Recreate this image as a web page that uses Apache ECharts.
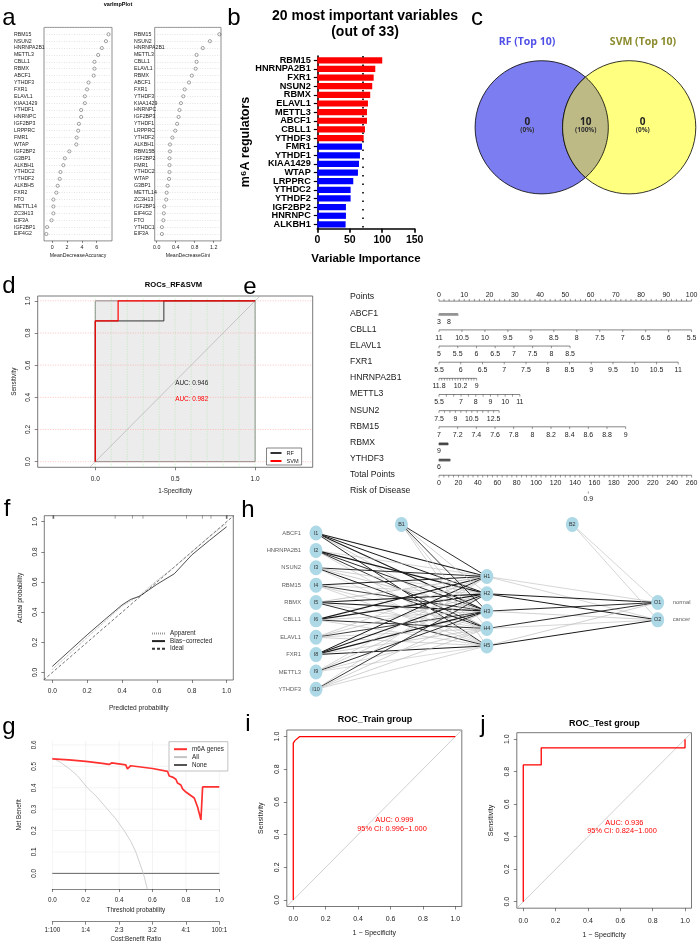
<!DOCTYPE html>
<html><head><meta charset="utf-8"><title>m6A regulators figure</title>
<script src="https://cdn.jsdelivr.net/npm/echarts@6.0.0/dist/echarts.min.js"></script>
<style>html,body{margin:0;padding:0;background:#fff;}#chart{width:700px;height:944px;}</style>
</head><body><div id="chart"></div>
<script>
// ================= DATA =================
// (a) varImpPlot
const accGenes = ['RBM15','NSUN2','HNRNPA2B1','METTL3','CBLL1','RBMX','ABCF1','YTHDF3','FXR1','ELAVL1','KIAA1429','YTHDF1','HNRNPC','IGF2BP3','LRPPRC','FMR1','WTAP','IGF2BP2','G3BP1','ALKBH1','YTHDC2','YTHDF2','ALKBH5','FXR2','FTO','METTL14','ZC3H13','EIF3A','IGF2BP1','EIF4G2'];
const accValues = [7.6,7.25,6.7,6.2,5.7,5.7,5.6,4.9,4.7,4.4,4.4,3.9,3.9,3.6,3.5,3.3,3.25,2.3,1.7,1.5,1.1,1.0,0.73,0.55,0.15,0.15,0.15,-0.1,-0.7,-0.8];
const accTicks = [0,2,4,6];
const giniGenes = ['RBM15','NSUN2','HNRNPA2B1','METTL3','CBLL1','ELAVL1','RBMX','ABCF1','FXR1','YTHDF3','KIAA1429','HNRNPC','IGF2BP3','YTHDF1','LRPPRC','YTHDF2','ALKBH1','RBM15B','IGF2BP2','FMR1','YTHDC2','WTAP','G3BP1','METTL14','ZC3H13','IGF2BP1','EIF4G2','FTO','YTHDC1','EIF3A'];
const giniValues = [1.32,1.12,0.97,0.84,0.84,0.82,0.74,0.68,0.59,0.56,0.51,0.48,0.46,0.43,0.39,0.33,0.28,0.28,0.27,0.27,0.27,0.26,0.23,0.21,0.20,0.16,0.15,0.14,0.11,0.11];
const giniTicks = [0,0.4,0.8,1.2];
// (b) importance bars
const impGenes = ['RBM15','HNRNPA2B1','FXR1','NSUN2','RBMX','ELAVL1','METTL3','ABCF1','CBLL1','YTHDF3','FMR1','YTHDF1','KIAA1429','WTAP','LRPPRC','YTHDC2','YTHDF2','IGF2BP2','HNRNPC','ALKBH1'];
const impValues = [100,89.3,86.8,84.6,81.5,78,76.5,76.5,73.4,71.4,68.8,65.7,64.2,62.6,55.4,51.3,51.3,44.1,44.1,43.6];
const impTopN = 10;
const impCutoff = 70;
// (c) Venn
const vennSetNames = ['RF (Top 10)','SVM (Top 10)'];
const vennCounts = [0, 10, 0];
const vennPercents = ['(0%)','(100%)','(0%)'];
// (d) ROC RF & SVM
const rfFpr = [0,0,0.429,0.429,1];
const rfTpr = [0,0.875,0.875,1,1];
const svmFpr = [0,0,0.143,0.143,1];
const svmTpr = [0,0.875,0.875,1,1];
const rocAucTexts = ['AUC: 0.946','AUC: 0.982'];
const dTicksX = [0,0.5,1];
const dTicksY = [0,0.2,0.4,0.6,0.8,1];
const dGridV = [0,0.1,0.2,0.3,0.4,0.5,0.6,0.7,0.8,0.9,1];
// (e) nomogram
const nomoRowNames = ['Points','ABCF1','CBLL1','ELAVL1','FXR1','HNRNPA2B1','METTL3','NSUN2','RBM15','RBMX','YTHDF3','Total Points','Risk of Disease'];
const nomoFrom = [0, 3, 11, 5, 5.5, 11.8, 5.5, 7.5, 7, 9, 6, 0];
const nomoTo   = [100, 12.5, 5.5, 8.5, 11, 9, 11, 13, 9, 12, 9, 260];
const nomoStep = [2, 0.5, 0.5, 0.5, 0.5, 0.2, 0.5, 0.5, 0.2, 0.1, 0.1, 5];
const nomoPointsSpan = [100, 7.5, 100, 51.9, 94.7, 14.9, 32, 23.8, 73.9, 3.6, 4.4, 100];
const nomoLabels = [
  [0,10,20,30,40,50,60,70,80,90,100],
  [3,8],
  [11,10.5,10,9.5,9,8.5,8,7.5,7,6.5,6,5.5],
  [5,5.5,6,6.5,7,7.5,8,8.5],
  [5.5,6,6.5,7,7.5,8,8.5,9,9.5,10,10.5,11],
  [11.8,10.2,9],
  [5.5,7,8,9,10,11],
  [7.5,9,10.5,12.5],
  [7,7.2,7.4,7.6,7.8,8,8.2,8.4,8.6,8.8,9],
  [9],
  [6],
  [0,20,40,60,80,100,120,140,160,180,200,220,240,260]
];
const riskValues = [0.9];
const riskTotalPoints = [153.7];
// (f) calibration
const calPredicted = [0,0.1,0.2,0.3,0.4,0.45,0.5,0.6,0.7,0.8,0.9,1.0];
const calApparent  = [0.02,0.125,0.232,0.337,0.44,0.475,0.51,0.61,0.70,0.80,0.90,0.99];
const calBias      = [0.04,0.145,0.25,0.35,0.448,0.485,0.505,0.585,0.655,0.78,0.875,0.967];
const calIdeal     = [[-0.05,-0.05],[1.05,1.05]];
const calRug       = [0.006,0.36,0.46,0.52,0.77,0.86,0.91,1.0];
const calRugCount  = [10,1,1,1,1,1,1,10];
const calTicks = [0,0.2,0.4,0.6,0.8,1];
// (g) decision curve
const dcaThreshold = [0,0.1,0.2,0.3,0.34,0.345,0.355,0.44,0.45,0.46,0.47,0.6,0.69,0.7,0.72,0.74,0.75,0.77,0.78,0.8,0.85,0.87,0.89,0.9,1.0];
const dcaModel     = [0.535,0.53,0.523,0.514,0.509,0.503,0.516,0.507,0.488,0.482,0.503,0.49,0.477,0.455,0.45,0.44,0.422,0.413,0.395,0.38,0.352,0.31,0.25,0.404,0.404];
const dcaAllThreshold = [0,0.05,0.1,0.15,0.21,0.27,0.33,0.38,0.43,0.47,0.5,0.545,0.57];
const dcaAll          = [0.54,0.518,0.49,0.457,0.4,0.355,0.3,0.255,0.2,0.15,0.1,0,-0.075];
const dcaNoneThreshold = [0,1];
const dcaNone = [0,0];
const dcaTicksX = [0,0.2,0.4,0.6,0.8,1];
const dcaTicksY = [0,0.1,0.2,0.3,0.4,0.5,0.6];
const costBenefit = ['1:100','1:4','2:3','3:2','4:1','100:1'];
// (h) neural network
const nnInputs = ['ABCF1','HNRNPA2B1','NSUN2','RBM15','RBMX','CBLL1','ELAVL1','FXR1','METTL3','YTHDF3'];
const nnOutputs = ['normal','cancer'];
const nnHidden = 5;
const nnWeightsIH = [
  [1.2,1.0,1.1,-0.6,0.9],[-0.5,1.3,0.9,0.8,-0.5],[0.9,-0.6,-0.7,1.0,-0.4],[1.0,-0.5,0.8,-0.6,-0.5],
  [-0.8,1.2,1.2,-0.5,0.9],[1.1,1.2,-0.6,0.9,-0.5],[-0.6,-0.7,0.8,-0.5,-0.6],[1.0,1.1,1.3,-0.6,1.0],
  [-0.5,-0.6,0.9,-0.5,-0.4],[-0.5,0.8,-0.6,-0.6,-0.5]];
const nnWeightsB1H = [0.9,-0.6,0.8,-0.5,-0.6];
const nnWeightsHO = [[-0.5,-0.5],[1.1,1.0],[0.9,-0.6],[0.9,-0.5],[-0.6,1.0]];
const nnWeightsB2O = [-0.5,-0.5];
// (i) ROC train
const trainFpr = [0,0,0.01,0.04,1];
const trainTpr = [0,0.96,0.975,1,1];
const trainTexts = ['AUC: 0.999','95% CI: 0.996\u22121.000'];
// (j) ROC test
const testFpr = [0,0,0.111,0.111,1,1];
const testTpr = [0,0.842,0.842,0.947,0.947,1];
const testTexts = ['AUC: 0.936','95% CI: 0.824\u22121.000'];
const rocTicks = [0,0.2,0.4,0.6,0.8,1];

// ================= BUILD =================
const FF = '"Liberation Sans", Arial, Helvetica, sans-serif';
const grid=[], xAxis=[], yAxis=[], series=[], graphic=[], legend=[];
const zip = (a,b)=>a.map((v,i)=>[v,b[i]]);
function addGrid(g){ grid.push(Object.assign({show:false, outerBoundsMode:'none', containLabel:false}, g)); return grid.length-1; }
function addX(a){ xAxis.push(a); return xAxis.length-1; }
function addY(a){ yAxis.push(a); return yAxis.length-1; }
function valAxis(gi, min, max, ticks, o){
  return {gridIndex:gi, type:'value', min:min, max:max, position:o.pos, offset:o.offset||0, inverse:!!o.inverse,
    axisLine:{show:!!o.line, onZero:false, lineStyle:{color:'#333', width:0.6}},
    splitLine:{show:false},
    axisTick:{show:true, customValues:ticks, length:o.tl||3, lineStyle:{color:'#333', width:0.6}},
    axisLabel:{show:true, customValues:ticks, fontSize:o.fs, fontFamily:FF, color:'#222', margin:o.margin, rotate:o.rot||0, formatter:o.fmt||(v=>String(v))},
    name:o.name||'', nameLocation:'middle', nameGap:o.gap||10, nameRotate:o.nrot||0,
    nameTextStyle:{fontSize:o.nfs||o.fs, fontFamily:FF, color:'#222'}};
}
function text(x,y,t,st,rot){
  graphic.push({type:'text', x:x, y:y, rotation:rot||0, z:100, silent:true,
    style:Object.assign({text:t, x:0, y:0, fontFamily:FF, fontSize:7, fill:'#000', align:'center', verticalAlign:'middle', textAlign:'center', textVerticalAlign:'middle'}, st||{})});
}
function line(xi, yi, data, ls, extra){
  series.push(Object.assign({type:'line', xAxisIndex:xi, yAxisIndex:yi, data:data, symbol:'none', showSymbol:false, silent:true, lineStyle:ls, z:3}, extra||{}));
}
const f1 = v=>v.toFixed(1);
const legendBase = {show:true, orient:'vertical', selectedMode:false, z:20, itemStyle:{opacity:0, borderWidth:0}};

// ---- panel letters & titles ----
[['a',9,18],['b',234,18],['c',477,18],['d',9,286],['e',250,287],['f',7,509],['h',248,510],['g',9,727],['i',248,724],['j',483,725]]
  .forEach(p=>text(p[1],p[2],p[0],{fontSize:24}));
text(118,4,'varImpPlot',{fontSize:5.5,fontWeight:'bold'});

// ---- (a) left dotchart ----
(function(){
  const g = addGrid({left:44, top:27.4, width:68, height:213.5, show:true, borderColor:'#444', borderWidth:0.6});
  const xi = addX(valAxis(g, -1.12, 8.07, accTicks, {fs:5.3, margin:4.5, name:'MeanDecreaseAccuracy', gap:12.5, nfs:5.2, tl:2}));
  const yi = addY({gridIndex:g, type:'value', min:0, max:31, interval:1, inverse:true, axisLine:{show:false, onZero:false}, axisTick:{show:false},
    splitLine:{show:true, lineStyle:{color:'#c8c8c8', type:[1,1.5], width:0.5}},
    axisLabel:{formatter:v=>accGenes[v-1]||'', align:'left', margin:30, fontSize:5.2, fontFamily:FF, color:'#222'}});
  series.push({type:'scatter', xAxisIndex:xi, yAxisIndex:yi, silent:true, data:accValues.map((v,i)=>[v,i+1]), symbol:'circle', symbolSize:3.2,
    itemStyle:{color:'rgba(255,255,255,0)', borderColor:'#222', borderWidth:0.5}, z:3});
})();
// ---- (a) right dotchart ----
(function(){
  const g = addGrid({left:154.7, top:27.4, width:66.3, height:213.5, show:true, borderColor:'#444', borderWidth:0.6});
  const xi = addX(valAxis(g, -0.042, 1.354, giniTicks, {fs:5.3, margin:4.5, name:'MeanDecreaseGini', gap:12.5, nfs:5.2, tl:2, fmt:f1}));
  const yi = addY({gridIndex:g, type:'value', min:0, max:31, interval:1, inverse:true, axisLine:{show:false, onZero:false}, axisTick:{show:false},
    splitLine:{show:true, lineStyle:{color:'#c8c8c8', type:[1,1.5], width:0.5}},
    axisLabel:{formatter:v=>giniGenes[v-1]||'', align:'left', margin:20.7, fontSize:5.2, fontFamily:FF, color:'#222'}});
  series.push({type:'scatter', xAxisIndex:xi, yAxisIndex:yi, silent:true, data:giniValues.map((v,i)=>[v,i+1]), symbol:'circle', symbolSize:3.2,
    itemStyle:{color:'rgba(255,255,255,0)', borderColor:'#222', borderWidth:0.5}, z:3});
})();

// ---- (b) bars ----
(function(){
  const g = addGrid({left:317.3, top:56, width:97.4, height:172.7});
  const ax = {color:'#000', width:1.6};
  const xi = addX({gridIndex:g, type:'value', min:0, max:150, interval:50, splitLine:{show:false},
    axisLine:{show:true, onZero:false, lineStyle:ax}, axisTick:{show:true, length:4, lineStyle:ax},
    axisLabel:{fontSize:10.5, fontWeight:'bold', fontFamily:FF, color:'#000', margin:6},
    name:'Variable Importance', nameLocation:'middle', nameGap:24, nameTextStyle:{fontSize:11.5, fontWeight:'bold', fontFamily:FF, color:'#000'}});
  const yi = addY({gridIndex:g, type:'category', data:impGenes, inverse:true,
    axisLine:{show:true, onZero:false, lineStyle:ax}, axisTick:{show:true, alignWithLabel:true, length:3.5, lineStyle:{color:'#000', width:1.2}},
    axisLabel:{interval:0, fontSize:9.2, fontWeight:'bold', fontFamily:FF, color:'#000', margin:6.5}});
  series.push({type:'bar', xAxisIndex:xi, yAxisIndex:yi, silent:true, barWidth:'72%', z:2,
    data:impValues.map((v,i)=>({value:v, itemStyle:{color:i<impTopN?'#ff0000':'#0000ff'}})),
    markLine:{silent:true, symbol:'none', label:{show:false}, data:[{xAxis:impCutoff}], lineStyle:{color:'#000', type:[1.6,6.9], width:1.6}}});
  text(365,16,'20 most important variables',{fontSize:14,fontWeight:'bold'});
  text(365,32.5,'(out of 33)',{fontSize:14,fontWeight:'bold'});
  text(245.5,142,'m\u2076A regulators',{fontSize:12.5,fontWeight:'bold'},Math.PI/2);
})();

// ---- (c) Venn ----
(function(){
  const r = 66.6, c1=[541.7,127.3], c2=[629.2,127.3];
  graphic.push({type:'circle', shape:{cx:c1[0],cy:c1[1],r:r}, style:{fill:'#7d7df2', stroke:'#000', lineWidth:0.8}, z:10, silent:true});
  graphic.push({type:'circle', shape:{cx:c2[0],cy:c2[1],r:r}, style:{fill:'#ffff80', stroke:'#000', lineWidth:0.8}, z:11, silent:true});
  const d = c2[0]-c1[0], half = Math.acos((d/2)/r);
  const pts=[];
  const N=60;
  for(let k=0;k<=N;k++){ const a=-half+2*half*k/N; pts.push([c1[0]+r*Math.cos(a), c1[1]+r*Math.sin(a)]); }
  for(let k=0;k<=N;k++){ const a=Math.PI-half+2*half*k/N; pts.push([c2[0]+r*Math.cos(a), c2[1]+r*Math.sin(a)]); }
  graphic.push({type:'polygon', shape:{points:pts}, style:{fill:'#bdba86', stroke:'#000', lineWidth:0.8}, z:12, silent:true});
  const VF = '"Open Sans", "Liberation Sans", Arial, sans-serif';
  text(527,42,vennSetNames[0],{fontSize:10.5,fontWeight:'bold',fill:'#4f4fe8',fontFamily:VF});
  text(643,42,vennSetNames[1],{fontSize:10.5,fontWeight:'bold',fill:'#8a8a2c',fontFamily:VF});
  const xs=[527.3,585.7,642.7];
  xs.forEach((x,i)=>{ text(x,122,String(vennCounts[i]),{fontSize:10,fontWeight:'bold',fill:'#222',fontFamily:VF});
                       text(x,130.5,vennPercents[i],{fontSize:6.5,fontWeight:'bold',fill:'#333',fontFamily:VF}); });
})();

// ---- (d) ROC RF & SVM ----
(function(){
  const g = addGrid({left:37.7, top:296, width:275, height:171.3, show:true, borderColor:'#555', borderWidth:0.8});
  const xi = addX(valAxis(g, -0.36, 1.36, dTicksX, {fs:6.5, margin:8, name:'1-Specificity', gap:20.5, nfs:6.3, fmt:f1}));
  const yi = addY(valAxis(g, -0.035, 1.03, dTicksY, {fs:6.5, margin:6, rot:90, name:'Sensitivity', gap:20.5, nfs:6.3, nrot:90, fmt:f1}));
  dTicksY.forEach(v=>line(xi,yi,[[-0.36,v],[1.36,v]],{color:'#ff9a9a',width:0.6,type:[1,1.5]},{z:1}));
  dGridV.forEach(v=>line(xi,yi,[[v,-0.035],[v,1.03]],{color:'#a8e6a8',width:0.6,type:[1,1.5]},{z:1}));
  series.push({type:'line', xAxisIndex:xi, yAxisIndex:yi, data:[], silent:true, z:2,
    markArea:{silent:true, itemStyle:{color:'#ececec', borderColor:'#666', borderWidth:0.8}, data:[[{coord:[0,0]},{coord:[1,1]}]]}});
  line(xi,yi,[[-0.5,-0.5],[1.5,1.5]],{color:'#aaaaaa',width:0.6},{z:3});
  line(xi,yi,zip(rfFpr,rfTpr),{color:'#333333',width:1},{z:4, name:'RF', color:'#333333'});
  line(xi,yi,zip(svmFpr,svmTpr),{color:'#ff0000',width:1.2},{z:5, name:'SVM', color:'#ff0000'});
  text(191.7,383.7,rocAucTexts[0],{fontSize:6.4,fill:'#222'});
  text(191.7,399.3,rocAucTexts[1],{fontSize:6.4,fill:'#ff0000'});
  text(173.5,285,'ROCs_RF&SVM',{fontSize:7.6,fontWeight:'bold'});
  legend.push(Object.assign({}, legendBase, {left:266.5, top:448, itemWidth:11, itemHeight:5, itemGap:2, padding:[2,3,1,3],
    borderColor:'#333', borderWidth:0.6, backgroundColor:'#fff',
    textStyle:{fontSize:5.6, fontFamily:FF, color:'#222'}, data:['RF','SVM']}));
})();

// ---- (e) nomogram ----
(function(){
  const g = addGrid({left:439, top:297.1, width:252.6, height:193.8});
  const xi = addX({gridIndex:g, type:'value', min:0, max:100, show:false});
  const yi = addY({gridIndex:g, type:'value', min:0, max:12, interval:1, inverse:true, axisLine:{show:false, onZero:false}, axisTick:{show:false}, splitLine:{show:false},
    axisLabel:{formatter:v=>nomoRowNames[v]||'', align:'left', margin:89, fontSize:8.7, fontFamily:FF, color:'#222'}});
  const rows = [];
  const fmt = v=>String(+v.toFixed(2));
  for (let i=0;i<nomoFrom.length;i++){
    const a=nomoFrom[i], b=nomoTo[i], s=nomoStep[i], span=nomoPointsSpan[i];
    const n=Math.round(Math.abs(b-a)/s), dir=b>a?1:-1;
    const pts = v=>(v-a)/(b-a)*span;
    const ticks=[]; for(let k=0;k<=n;k++) ticks.push(pts(a+dir*k*s));
    rows.push({row:i, up:i===0, ticks:ticks, labels:nomoLabels[i].map(v=>({p:pts(v), t:fmt(v)}))});
  }
  rows.push({row:12, up:false, ticks:riskTotalPoints.map(t=>t*100/260), labels:riskValues.map((v,k)=>({p:riskTotalPoints[k]*100/260, t:fmt(v)}))});
  series.push({type:'custom', xAxisIndex:xi, yAxisIndex:yi, silent:true, clip:false, z:3,
    data:rows.map(r=>[0,r.row]),
    renderItem:function(params, api){
      const r = rows[params.dataIndex];
      const off = r.up ? 4 : 0.5;
      const ch = [];
      const p0 = api.coord([r.ticks[0], r.row]), p1 = api.coord([r.ticks[r.ticks.length-1], r.row]);
      const y = p0[1]+off;
      if (r.ticks.length>1) ch.push({type:'line', shape:{x1:p0[0],y1:y,x2:p1[0],y2:y}, style:{stroke:'#333',lineWidth:0.6}});
      r.ticks.forEach(t=>{ const p=api.coord([t,r.row]); ch.push({type:'line', shape:{x1:p[0],y1:y,x2:p[0],y2:y+(r.up?-2.2:2.2)}, style:{stroke:'#333',lineWidth:0.5}}); });
      r.labels.forEach(l=>{ const p=api.coord([l.p,r.row]); ch.push({type:'text', x:p[0], y:(r.up? y-6.5 : y+8),
        style:{text:l.t, fontSize:7, fontFamily:FF, fill:'#222', align:'center', verticalAlign:'middle', textAlign:'center', textVerticalAlign:'middle'}}); });
      return {type:'group', children:ch};
    }});
})();

// ---- (f) calibration ----
(function(){
  const g = addGrid({left:44.3, top:515.7, width:189, height:164.3, show:true, borderColor:'#444', borderWidth:0.7});
  const xi = addX(valAxis(g, -0.046, 1.038, calTicks, {fs:6.6, margin:8, name:'Predicted probability', gap:25, fmt:f1}));
  const yi = addY(valAxis(g, -0.05, 1.04, calTicks, {fs:6.6, margin:6, rot:90, name:'Actual probability', gap:21, nrot:90, fmt:f1}));
  line(xi,yi,calIdeal,{color:'#333',width:0.7,type:[3,2]},{name:'Ideal', color:'#333', z:3});
  line(xi,yi,zip(calPredicted,calApparent),{color:'#9a9a9a',width:0.8,type:[1,1]},{name:'Apparent', color:'#9a9a9a', z:4});
  line(xi,yi,zip(calPredicted,calBias),{color:'#222',width:0.8},{name:'Bias\u2212corrected', color:'#222', z:5});
  series.push({type:'scatter', xAxisIndex:xi, yAxisIndex:yi, silent:true, z:6, symbol:'rect',
    data:calRug.map((v,i)=>({value:[v,1.031], symbolSize:[calRugCount[i]>5?1.6:0.6,3.5]})), itemStyle:{color:'#444'}});
  legend.push(Object.assign({}, legendBase, {left:151, top:630.5, itemWidth:13, itemHeight:6, itemGap:1.6, padding:0,
    textStyle:{fontSize:6.3, fontFamily:FF, color:'#222'}, data:['Apparent','Bias\u2212corrected','Ideal']}));
})();

// ---- (h) neural net ----
(function(){
  const g = addGrid({left:316, top:515.7, width:341.7, height:173.6});
  const xi = addX({gridIndex:g, type:'value', min:0, max:4, show:false});
  const yi = addY({gridIndex:g, type:'value', min:0, max:10, inverse:true, show:false});
  const nIn = nnInputs.length, mid = (nIn+1)/2;
  const nodes=[], links=[];
  nnInputs.forEach((n,i)=>nodes.push({name:'I'+(i+1), value:[0,i+1]}));
  nodes.push({name:'B1', value:[1,0.5]});
  for(let j=1;j<=nnHidden;j++) nodes.push({name:'H'+j, value:[2, mid+j-(nnHidden+1)/2]});
  nodes.push({name:'B2', value:[3,0.5]});
  nnOutputs.forEach((o,k)=>nodes.push({name:'O'+(k+1), value:[4, mid+(k+1)-(nnOutputs.length+1)/2]}));
  const ls = w=>({color:w>0?'#1a1a1a':'#bdbdbd', width:0.25+0.75*Math.abs(w), opacity:1, curveness:0});
  nnWeightsIH.forEach((row,i)=>row.forEach((w,j)=>links.push({source:'I'+(i+1), target:'H'+(j+1), lineStyle:ls(w)})));
  nnWeightsB1H.forEach((w,j)=>links.push({source:'B1', target:'H'+(j+1), lineStyle:ls(w)}));
  nnWeightsHO.forEach((row,j)=>row.forEach((w,k)=>links.push({source:'H'+(j+1), target:'O'+(k+1), lineStyle:ls(w)})));
  nnWeightsB2O.forEach((w,k)=>links.push({source:'B2', target:'O'+(k+1), lineStyle:ls(w)}));
  series.push({type:'graph', coordinateSystem:'cartesian2d', xAxisIndex:xi, yAxisIndex:yi, layout:'none', silent:true, z:3,
    symbol:'circle', symbolSize:[13,15], itemStyle:{color:'#add8e6', borderWidth:0},
    label:{show:true, position:'inside', fontSize:5.4, fontFamily:FF, color:'#333', formatter:'{b}'},
    lineStyle:{opacity:1, curveness:0}, emphasis:{disabled:true}, data:nodes, links:links});
  series.push({type:'scatter', xAxisIndex:xi, yAxisIndex:yi, silent:true, symbolSize:0, z:4,
    data:nnInputs.map((n,i)=>({value:[0,i+1], name:n})),
    label:{show:true, position:'left', distance:15, fontSize:5.8, fontFamily:FF, color:'#333', formatter:'{b}'}});
  series.push({type:'scatter', xAxisIndex:xi, yAxisIndex:yi, silent:true, symbolSize:0, z:4,
    data:nnOutputs.map((n,k)=>({value:[4, mid+(k+1)-(nnOutputs.length+1)/2], name:n})),
    label:{show:true, position:'right', distance:15, fontSize:5.8, fontFamily:FF, color:'#333', formatter:'{b}'}});
})();

// ---- (g) decision curve ----
(function(){
  const g = addGrid({left:52.3, top:740.7, width:167, height:148.3});
  const xi = addX(valAxis(g, 0, 1, dcaTicksX, {fs:6.3, margin:8.5, name:'Threshold probability', gap:18.5, line:true, pos:'bottom', fmt:f1}));
  const xi2 = addX(valAxis(g, 0, 1, dcaTicksX, {fs:6.3, margin:6, name:'Cost:Benefit Ratio', gap:15, line:true, pos:'bottom', offset:32.7,
    fmt:v=>costBenefit[Math.round(v*5)]}));
  const yi = addY(valAxis(g, -0.073, 0.62, dcaTicksY, {fs:6.3, margin:15.5, rot:90, name:'Net Benefit', gap:30, nrot:90, fmt:f1}));
  yAxis[yi].axisTick.show = false;
  dcaTicksY.forEach(v=>line(xi,yi,[[0,v],[1,v]],{color:'#ebebeb',width:0.6},{z:1}));
  dcaTicksX.forEach(v=>line(xi,yi,[[v,-0.073],[v,0.62]],{color:'#ebebeb',width:0.6},{z:1}));
  line(xi,yi,zip(dcaNoneThreshold,dcaNone),{color:'#555555',width:0.9},{name:'None', color:'#555555', z:3});
  line(xi,yi,zip(dcaAllThreshold,dcaAll),{color:'#c4c4c4',width:0.8},{name:'All', color:'#c4c4c4', z:3});
  line(xi,yi,zip(dcaThreshold,dcaModel),{color:'#ff3030',width:1.7},{name:'m6A genes', color:'#ff3030', z:4});
  legend.push(Object.assign({}, legendBase, {left:169, top:741.7, width:50, itemWidth:13, itemHeight:6, itemGap:1.9, padding:[4.5,4,3,4],
    borderColor:'#999', borderWidth:0.6, backgroundColor:'#fff',
    textStyle:{fontSize:6.3, fontFamily:FF, color:'#222'}, data:['m6A genes','All','None']}));
})();

// ---- (i), (j) ROC ----
function rocPanel(left, top, w, h, fpr, tpr, texts, tx, ty, title, titleX, titleY, ym, yg){
  const g = addGrid({left:left, top:top, width:w, height:h, show:true, borderColor:'#555', borderWidth:0.8});
  const xi = addX(valAxis(g, -0.04, 1.04, rocTicks, {fs:7, margin:9, name:'1 \u2212 Specificity', gap:23, fmt:f1}));
  const yi = addY(valAxis(g, -0.04, 1.04, rocTicks, {fs:7, margin:ym, rot:90, name:'Sensitivity', gap:yg, nrot:90, fmt:f1}));
  line(xi,yi,[[-0.04,-0.04],[1.04,1.04]],{color:'#bbbbbb',width:0.7},{z:2});
  line(xi,yi,zip(fpr,tpr),{color:'#ff0000',width:1.3},{z:4});
  text(tx,ty,texts[0],{fontSize:7.4,fill:'#ff0000'});
  text(tx-2.3,ty+8.5,texts[1],{fontSize:7.4,fill:'#ff0000'});
  text(titleX,titleY,title,{fontSize:9,fontWeight:'bold'});
}
rocPanel(286.8, 730, 175, 176.5, trainFpr, trainTpr, trainTexts, 394.3, 820, 'ROC_Train group', 375, 720, 6.5, 22);
rocPanel(516.8, 732.7, 174.7, 175.5, testFpr, testTpr, testTexts, 624.3, 822.7, 'ROC_Test group', 604.3, 723.3, 6.5, 22.5);

const chart = echarts.init(document.getElementById('chart'), null, {renderer:'canvas'});
chart.setOption({animation:false, backgroundColor:'#ffffff', textStyle:{fontFamily:FF},
  grid:grid, xAxis:xAxis, yAxis:yAxis, series:series, legend:legend, graphic:graphic, tooltip:{show:false}});
</script></body></html>
